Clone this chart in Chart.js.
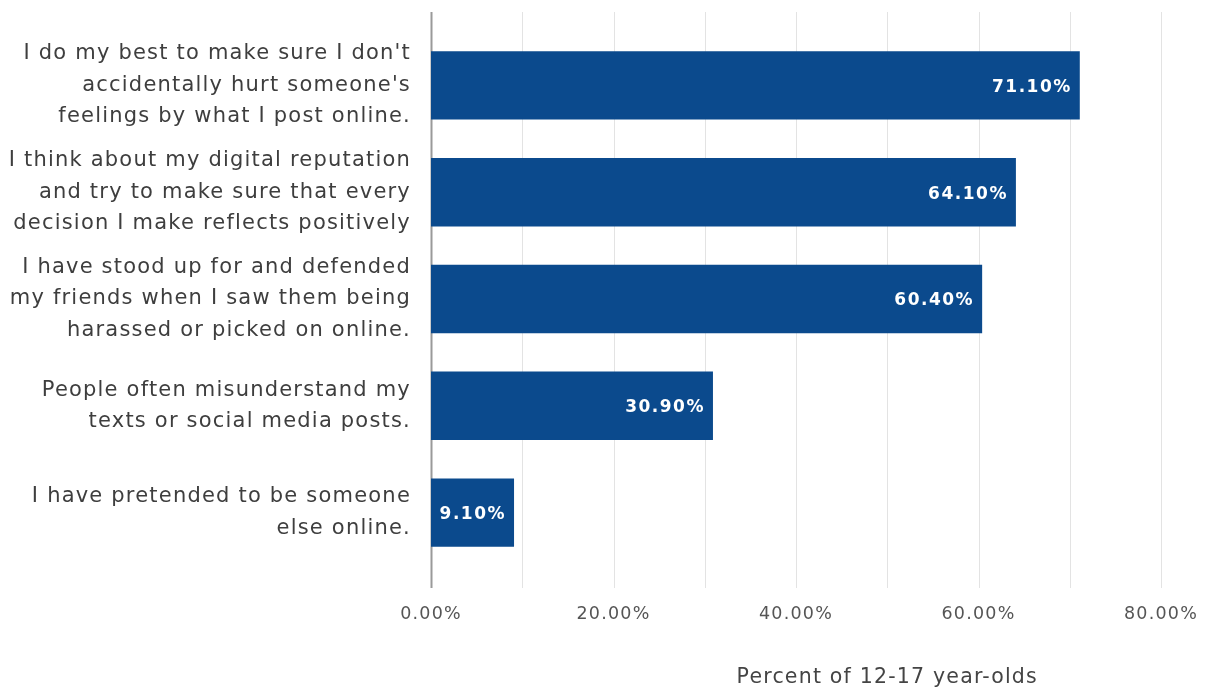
<!DOCTYPE html>
<html>
<head>
<meta charset="utf-8">
<script src="https://cdn.jsdelivr.net/npm/chart.js@4"></script>
<style>
  html, body { margin: 0; padding: 0; background: #fff; }
  #wrap { width: 1212px; height: 692px; }
</style>
</head>
<body>
<div id="wrap"><canvas id="chart" width="1212" height="692"></canvas></div>
<script>
// dados do gráfico
const statements = [
  ["I do my best to make sure I don't", "accidentally hurt someone's", "feelings by what I post online."],
  ["I think about my digital reputation", "and try to make sure that every", "decision I make reflects positively"],
  ["I have stood up for and defended", "my friends when I saw them being", "harassed or picked on online."],
  ["People often misunderstand my", "texts or social media posts."],
  ["I have pretended to be someone", "else online."]
];
const percents = [71.1, 64.1, 60.4, 30.9, 9.1];
const tickLabels = ['0.00%', '20.00%', '40.00%', '60.00%', '80.00%'];
const axisTitle = 'Percent of 12-17 year-olds';

const barColor = '#0b4a8d';
const fontFamily = '"DejaVu Sans", "Liberation Sans", sans-serif';

// o texto original é mais "largo", então abre um pouco o espaçamento
const spacingPlugin = {
  id: 'spacing',
  beforeUpdate(chart) { chart.ctx.letterSpacing = '1.2px'; },
  beforeDraw(chart) { chart.ctx.letterSpacing = '1.2px'; }
};

// linhas de grade que passam um pouco do topo/fundo da área do gráfico
const gridPlugin = {
  id: 'extGrid',
  beforeDatasetsDraw(chart) {
    const { ctx, chartArea, scales } = chart;
    const x = scales.x;
    ctx.save();
    for (let v = 0; v <= 80; v += 10) {
      const px = Math.round(x.getPixelForValue(v)) + 0.5;
      ctx.beginPath();
      ctx.strokeStyle = v === 0 ? '#9a9a9a' : '#e3e3e3';
      ctx.lineWidth = v === 0 ? 2 : 1;
      ctx.moveTo(px, chartArea.top - 20);
      ctx.lineTo(px, chartArea.bottom + 22);
      ctx.stroke();
    }
    ctx.restore();
  }
};

// rótulos de valor dentro das barras + título do eixo
const labelPlugin = {
  id: 'barLabels',
  afterDatasetsDraw(chart) {
    const { ctx, scales } = chart;
    const meta = chart.getDatasetMeta(0);
    ctx.save();
    ctx.letterSpacing = '1.5px';
    ctx.fillStyle = '#ffffff';
    ctx.font = 'bold 17px ' + fontFamily;
    ctx.textAlign = 'right';
    ctx.textBaseline = 'middle';
    meta.data.forEach((bar, i) => {
      ctx.fillText(percents[i].toFixed(2) + '%', bar.x - 8, bar.y + 2);
    });
    ctx.letterSpacing = '1.2px';
    ctx.fillStyle = '#444';
    ctx.font = '20.5px ' + fontFamily;
    ctx.textAlign = 'center';
    ctx.fillText(axisTitle, scales.x.getPixelForValue(50), 678);
    ctx.restore();
  }
};

function noPad(scale) {
  scale.paddingLeft = 0;
  scale.paddingRight = 0;
  scale.paddingTop = 0;
  scale.paddingBottom = 0;
}

new Chart(document.getElementById('chart').getContext('2d'), {
  type: 'bar',
  data: {
    labels: statements,
    datasets: [{
      data: percents,
      backgroundColor: barColor,
      borderWidth: 0,
      categoryPercentage: 1,
      barPercentage: 0.64
    }]
  },
  options: {
    indexAxis: 'y',
    responsive: false,
    animation: false,
    layout: { padding: { top: 32, right: 51, left: 0, bottom: 0 } },
    plugins: { legend: { display: false }, tooltip: { enabled: false } },
    scales: {
      x: {
        min: 0,
        max: 80,
        grid: { display: false },
        border: { display: false },
        afterFit(scale) { scale.height = 126; noPad(scale); },
        ticks: {
          stepSize: 10,
          autoSkip: false,
          maxRotation: 0,
          padding: 30,
          color: '#555',
          font: { family: fontFamily, size: 17.5 },
          callback: (v) => (v % 20 === 0 ? tickLabels[v / 20] : '')
        }
      },
      y: {
        grid: { display: false },
        border: { display: false },
        afterFit(scale) { scale.width = 431; noPad(scale); },
        ticks: {
          padding: 12,
          color: '#3e3e3e',
          font: { family: fontFamily, size: 21, lineHeight: 1.5 }
        }
      }
    }
  },
  plugins: [spacingPlugin, gridPlugin, labelPlugin]
});
</script>
</body>
</html>
